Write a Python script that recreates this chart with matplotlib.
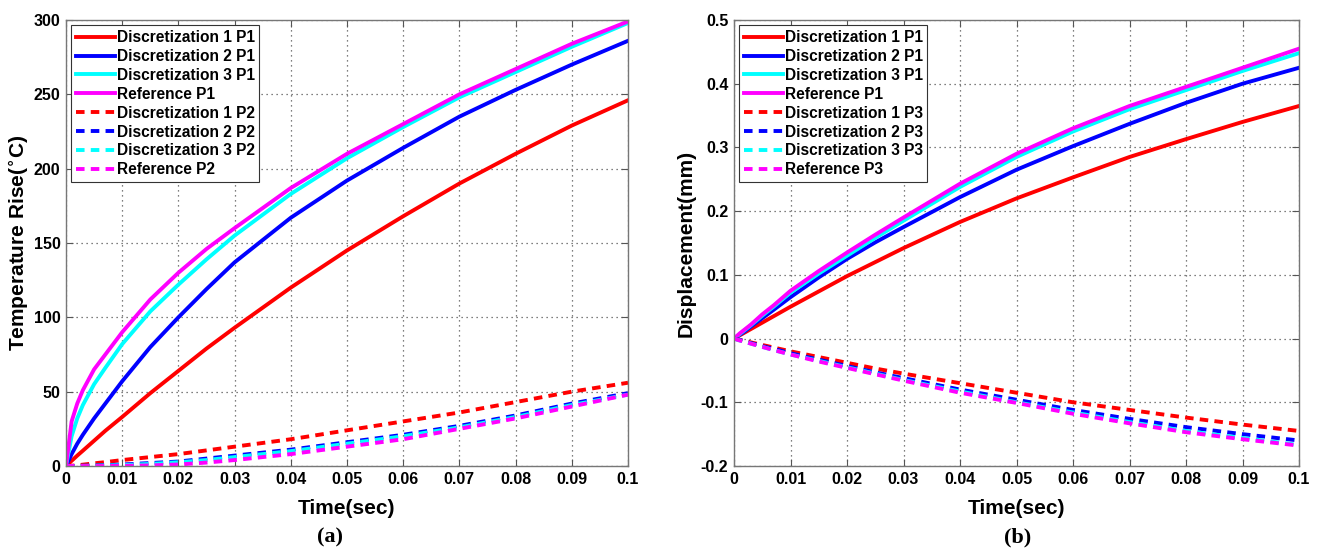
import matplotlib
matplotlib.use("Agg")
import matplotlib.pyplot as plt
import numpy as np

plt.rcParams['font.family'] = ['Liberation Sans', 'DejaVu Sans']
plt.rcParams['font.weight'] = 'bold'
plt.rcParams['mathtext.default'] = 'bf'

time = [0.0, 0.001, 0.002, 0.003, 0.005, 0.007, 0.01, 0.015, 0.02, 0.025, 0.03,
        0.04, 0.05, 0.06, 0.07, 0.08, 0.09, 0.1]

# Panel (a): temperature rise
temp_d1_p1 = [0, 3.5, 7, 10.3, 17, 23.7, 33, 49, 64, 79, 93, 120, 145, 168, 190, 210, 229, 246]
temp_d2_p1 = [0, 8, 15, 21, 32, 42, 57, 80, 100, 119, 137, 167, 192, 214, 235, 253, 270, 286]
temp_d3_p1 = [0, 20, 32, 41, 55, 66, 82, 104, 122, 139, 155, 183, 207, 228, 248, 265, 282, 298]
temp_ref_p1 = [0, 30, 42, 51, 65, 75, 90, 112, 130, 146, 160, 187, 210, 230, 250, 267, 284, 299]
temp_d1_p2 = [0, 0.2, 0.5, 0.9, 1.8, 2.6, 4, 6, 8, 10.5, 13, 18, 24, 30, 36, 43, 50, 56]
temp_d2_p2 = [0, 0, 0.1, 0.15, 0.3, 0.6, 1, 2, 3, 5, 7, 11, 16, 21, 27, 34, 42, 49]
temp_d3_p2 = [0, 0, 0.05, 0.1, 0.2, 0.4, 0.6, 1.4, 2.5, 4, 6, 10, 15, 20, 26, 33, 41, 48]
temp_ref_p2 = [0, 0, 0, 0, 0, 0, 0.1, 0.4, 1, 2.3, 4, 8, 13, 18, 25, 32, 40, 48]

# Panel (b): displacement
disp_d1_p1 = [0, 0.005, 0.01, 0.015, 0.025, 0.035, 0.05, 0.074, 0.098, 0.12, 0.142,
              0.183, 0.22, 0.253, 0.285, 0.313, 0.34, 0.365]
disp_d2_p1 = [0, 0.006, 0.012, 0.019, 0.032, 0.045, 0.065, 0.096, 0.125, 0.151, 0.175,
              0.222, 0.265, 0.302, 0.337, 0.37, 0.4, 0.425]
disp_d3_p1 = [0, 0.007, 0.014, 0.021, 0.036, 0.05, 0.072, 0.102, 0.13, 0.158, 0.185,
              0.238, 0.285, 0.325, 0.36, 0.39, 0.42, 0.448]
disp_ref_p1 = [0, 0.008, 0.015, 0.022, 0.038, 0.052, 0.075, 0.106, 0.135, 0.163, 0.19,
               0.243, 0.29, 0.33, 0.365, 0.395, 0.425, 0.455]
disp_d1_p3 = [0, -0.002, -0.004, -0.006, -0.01, -0.014, -0.02, -0.029, -0.038, -0.047, -0.055,
              -0.07, -0.085, -0.1, -0.112, -0.124, -0.135, -0.145]
disp_d2_p3 = [0, -0.002, -0.005, -0.007, -0.012, -0.016, -0.023, -0.033, -0.043, -0.053, -0.062,
              -0.08, -0.096, -0.112, -0.126, -0.139, -0.15, -0.16]
disp_d3_p3 = [0, -0.003, -0.005, -0.008, -0.013, -0.018, -0.025, -0.035, -0.045, -0.055, -0.065,
              -0.083, -0.1, -0.116, -0.131, -0.145, -0.156, -0.167]
disp_ref_p3 = [0, -0.003, -0.005, -0.008, -0.013, -0.018, -0.025, -0.036, -0.046, -0.056, -0.066,
               -0.085, -0.101, -0.118, -0.133, -0.147, -0.158, -0.168]

colors = ['#ff0000', '#0000ff', '#00ffff', '#ff00ff']
labels_a = ['Discretization 1 P1', 'Discretization 2 P1', 'Discretization 3 P1', 'Reference P1',
            'Discretization 1 P2', 'Discretization 2 P2', 'Discretization 3 P2', 'Reference P2']
labels_b = ['Discretization 1 P1', 'Discretization 2 P1', 'Discretization 3 P1', 'Reference P1',
            'Discretization 1 P3', 'Discretization 2 P3', 'Discretization 3 P3', 'Reference P3']

xticks = [0, 0.01, 0.02, 0.03, 0.04, 0.05, 0.06, 0.07, 0.08, 0.09, 0.1]
xticklabels = ['0', '0.01', '0.02', '0.03', '0.04', '0.05', '0.06', '0.07', '0.08', '0.09', '0.1']

fig = plt.figure(figsize=(13.2, 5.51), dpi=100)
axa = fig.add_axes([66/1320, 85/551, 562/1320, 446/551])
axb = fig.add_axes([734/1320, 85/551, 565/1320, 446/551])

def style(ax, yticks, yticklabels, ylim, ylabel, pad):
    ax.set_xlim(0, 0.1)
    ax.set_ylim(*ylim)
    ax.set_xticks(xticks)
    ax.set_xticklabels(xticklabels)
    ax.set_yticks(yticks)
    ax.set_yticklabels(yticklabels)
    ax.tick_params(direction='in', top=True, right=True, labelsize=11.5, length=5,
                   color='#555555', pad=4)
    for t in ax.get_xticklabels() + ax.get_yticklabels():
        t.set_fontweight('bold')
    ax.grid(True, linestyle=(0, (1, 3)), color='#555555', linewidth=0.9)
    for s in ax.spines.values():
        s.set_color('#777777')
        s.set_linewidth(1.0)
    ax.set_xlabel('Time(sec)', fontsize=15, fontweight='bold', labelpad=9)
    ax.set_ylabel(ylabel, fontsize=15, fontweight='bold', labelpad=pad)

series_a = [temp_d1_p1, temp_d2_p1, temp_d3_p1, temp_ref_p1, temp_d1_p2, temp_d2_p2, temp_d3_p2, temp_ref_p2]
series_b = [disp_d1_p1, disp_d2_p1, disp_d3_p1, disp_ref_p1, disp_d1_p3, disp_d2_p3, disp_d3_p3, disp_ref_p3]

for ax, series, labels in [(axa, series_a, labels_a), (axb, series_b, labels_b)]:
    for i, (y, lab) in enumerate(zip(series, labels)):
        ls = '-' if i < 4 else (0, (2.2, 1.6))
        ax.plot(time, y, color=colors[i % 4], linestyle=ls, linewidth=2.8, label=lab)
    leg = ax.legend(loc='upper left', fontsize=11.2, handlelength=2.5, handletextpad=0.1,
                    labelspacing=0.25, borderpad=0.3, fancybox=False, framealpha=1,
                    edgecolor='#333333', borderaxespad=0.35)
    leg.get_frame().set_linewidth(0.8)
    for t in leg.get_texts():
        t.set_fontweight('bold')

style(axa, [0, 50, 100, 150, 200, 250, 300], ['0', '50', '100', '150', '200', '250', '300'],
      (0, 300), 'Temperature Rise($^{\\circ}$C)', 2)
style(axb, [-0.2, -0.1, 0, 0.1, 0.2, 0.3, 0.4, 0.5],
      ['-0.2', '-0.1', '0', '0.1', '0.2', '0.3', '0.4', '0.5'],
      (-0.2, 0.5), 'Displacement(mm)', 4)

fig.text(330/1320, 1 - 537/551, '(a)', ha='center', va='center', fontsize=16,
         fontweight='bold', family='Liberation Serif')
fig.text(1018/1320, 1 - 537/551, '(b)', ha='center', va='center', fontsize=16,
         fontweight='bold', family='Liberation Serif')

fig.savefig('out.png', dpi=100)
